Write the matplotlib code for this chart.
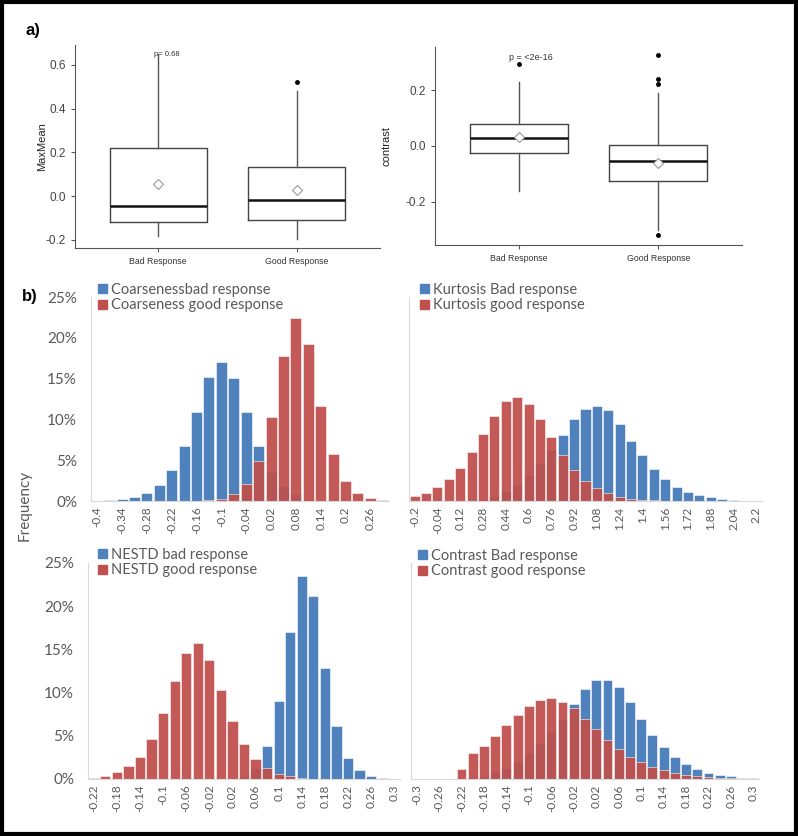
import numpy as np
import matplotlib
matplotlib.use("Agg")
import matplotlib.pyplot as plt
from matplotlib.patches import Patch, Rectangle

# --- a) box plots (values read off the picture) ---
groups = ["Bad Response", "Good Response"]

mm_whislo = [-0.183, -0.197]
mm_q1 = [-0.117, -0.110]
mm_med = [-0.044, -0.017]
mm_q3 = [0.219, 0.134]
mm_whishi = [0.65, 0.48]
mm_mean = [0.055, 0.030]
mm_fliers = [[], [0.52]]

ct_whislo = [-0.16, -0.30]
ct_q1 = [-0.025, -0.125]
ct_med = [0.028, -0.055]
ct_q3 = [0.078, 0.003]
ct_whishi = [0.23, 0.19]
ct_mean = [0.032, -0.060]
ct_fliers = [[0.295], [0.325, 0.24, 0.22, -0.32]]

# --- b) histograms (percent per bin) ---
coarse_bins = ["-0.4", "-0.37", "-0.34", "-0.31", "-0.28", "-0.25", "-0.22", "-0.19",
               "-0.16", "-0.13", "-0.1", "-0.07", "-0.04", "-0.01", "0.02", "0.05",
               "0.08", "0.11", "0.14", "0.17", "0.2", "0.23", "0.26", "0.29"]
coarse_bad = [0.05, 0.1, 0.2, 0.45, 1.0, 2.0, 3.8, 6.8, 10.9, 15.2, 17.0, 15.1,
              10.9, 6.8, 3.6, 1.8, 0.8, 0.3, 0.1, 0.05, 0, 0, 0, 0]
coarse_good = [0, 0, 0, 0, 0, 0, 0, 0, 0, 0.1, 0.3, 0.8,
               2.1, 4.9, 10.3, 17.8, 22.4, 19.2, 11.6, 5.7, 2.5, 0.95, 0.35, 0.1]

kurt_bins = ["-0.2", "-0.12", "-0.04", "0.04", "0.12", "0.2", "0.28", "0.36", "0.44",
             "0.52", "0.6", "0.68", "0.76", "0.84", "0.92", "1", "1.08", "1.16", "1.24",
             "1.32", "1.4", "1.48", "1.56", "1.64", "1.72", "1.8", "1.88", "1.96", "2.04",
             "2.12", "2.2"]
kurt_bad = [0, 0, 0, 0, 0, 0, 0.3, 0.6, 1.2, 2.0, 3.2, 4.6, 6.3, 8.1, 10.0, 11.3,
            11.7, 11.1, 9.4, 7.4, 5.6, 3.9, 2.65, 1.75, 1.15, 0.75, 0.45, 0.25, 0.12,
            0.06, 0.03]
kurt_good = [0.65, 1.0, 1.7, 2.7, 4.1, 6.0, 8.2, 10.4, 12.2, 12.7, 11.9, 10.1, 7.8,
             5.6, 3.8, 2.5, 1.55, 0.95, 0.55, 0.3, 0.15, 0.08, 0.04, 0, 0, 0, 0, 0,
             0, 0, 0]

nestd_bins = ["-0.22", "-0.2", "-0.18", "-0.16", "-0.14", "-0.12", "-0.1", "-0.08",
              "-0.06", "-0.04", "-0.02", "0", "0.02", "0.04", "0.06", "0.08", "0.1",
              "0.12", "0.14", "0.16", "0.18", "0.2", "0.22", "0.24", "0.26", "0.28", "0.3"]
nestd_bad = [0, 0, 0, 0, 0, 0, 0, 0, 0, 0, 0, 0.05, 0.15, 0.4, 1.3, 3.85, 9.0, 17.0,
             23.5, 21.2, 12.8, 6.1, 2.4, 1.0, 0.35, 0.08, 0.05]
nestd_good = [0.15, 0.4, 0.8, 1.5, 2.6, 4.6, 7.6, 11.4, 14.6, 15.7, 13.8, 10.3, 6.7,
              4.0, 2.3, 1.3, 0.6, 0.3, 0.12, 0.05, 0, 0, 0, 0, 0, 0, 0]

contrast_bins = ["-0.3", "-0.28", "-0.26", "-0.24", "-0.22", "-0.2", "-0.18", "-0.16",
                 "-0.14", "-0.12", "-0.1", "-0.08", "-0.06", "-0.04", "-0.02", "0",
                 "0.02", "0.04", "0.06", "0.08", "0.1", "0.12", "0.14", "0.16", "0.18",
                 "0.2", "0.22", "0.24", "0.26", "0.28", "0.3"]
contrast_bad = [0.05, 0.05, 0.05, 0.05, 0.1, 0.2, 0.4, 0.8, 1.3, 2.0, 3.0, 4.2, 5.5,
                6.9, 8.65, 10.4, 11.45, 11.5, 10.6, 8.9, 7.0, 5.1, 3.65, 2.5, 1.7, 1.1,
                0.75, 0.5, 0.3, 0.15, 0.08]
contrast_good = [0, 0, 0, 0.05, 1.15, 3.0, 3.85, 5.0, 6.2, 7.4, 8.5, 9.15, 9.35, 8.95,
                 8.2, 7.0, 5.8, 4.5, 3.5, 2.6, 1.95, 1.4, 1.0, 0.7, 0.5, 0.3, 0.2, 0.12,
                 0.07, 0.04, 0.02]

W, H = 798, 836
BLUE = "#4F81BD"
RED = "#C0504D"
GREY = "#595959"

fig = plt.figure(figsize=(W / 100, H / 100), dpi=100)


def rect(l, t, r, b):
    # pixel box -> figure fraction
    return [l / W, 1 - b / H, (r - l) / W, (b - t) / H]


def box_panel(box, whislo, q1, med, q3, whishi, mean, fliers, ylim, yticks, ylabel, ylab_x):
    ax = fig.add_axes(rect(*box))
    stats = []
    for i in range(len(groups)):
        stats.append(dict(whislo=whislo[i], q1=q1[i], med=med[i], q3=q3[i],
                          whishi=whishi[i], mean=mean[i], fliers=fliers[i]))
    ax.bxp(stats, positions=[1, 2], widths=0.7, showmeans=True, showcaps=False,
           boxprops=dict(color="#444444", lw=1),
           whiskerprops=dict(color="#555555", lw=1),
           medianprops=dict(color="#111111", lw=1.8),
           meanprops=dict(marker="D", markerfacecolor="white", markeredgecolor="#999999",
                          markersize=5, markeredgewidth=0.8),
           flierprops=dict(marker="o", markerfacecolor="black", markeredgecolor="black",
                           markersize=2.5))
    ax.set_xlim(0.4, 2.6)
    ax.set_ylim(*ylim)
    ax.set_yticks(yticks)
    ax.set_yticklabels([f"{v:.1f}" for v in yticks], fontsize=8.5, color="#444444")
    ax.set_xticks([1, 2])
    ax.set_xticklabels(groups, fontsize=6.3, color="#333333")
    ax.tick_params(length=3, color="#555555")
    for s in ["top", "right"]:
        ax.spines[s].set_visible(False)
    for s in ["left", "bottom"]:
        ax.spines[s].set_color("#555555")
    fig.text(ylab_x / W, 1 - ((box[1] + box[3]) / 2) / H, ylabel, rotation=90,
             ha="center", va="center", fontsize=8, color="#222222")
    return ax


plt.rcParams["font.family"] = ["Liberation Sans", "DejaVu Sans"]

ax1 = box_panel((75, 45, 380, 248), mm_whislo, mm_q1, mm_med, mm_q3, mm_whishi,
                mm_mean, mm_fliers, (-0.237, 0.691), [-0.2, 0.0, 0.2, 0.4, 0.6],
                "MaxMean", 42)
ax1.text(1.06, 0.646, "p= 0.68", fontsize=5.5, ha="center", va="center", color="#333333")

ax2 = box_panel((435, 47, 742, 245), ct_whislo, ct_q1, ct_med, ct_q3, ct_whishi,
                ct_mean, ct_fliers, (-0.354, 0.354), [-0.2, 0.0, 0.2],
                "contrast", 387)
ax2.text(1.09, 0.318, "p = <2e-16", fontsize=6.5, ha="center", va="center", color="#333333")

fig.text(33 / W, 1 - 30 / H, "a)", fontsize=12, fontweight="bold", ha="center", va="center")

# --- histograms, Excel style ---
plt.rcParams["font.family"] = ["Lato", "DejaVu Sans"]


def hist_panel(box, bins, bad, good, bad_lab, good_lab, leg_xy, show_y):
    ax = fig.add_axes(rect(*box))
    x = np.arange(len(bins))
    ax.bar(x, bad, width=0.88, color=BLUE, edgecolor="white", lw=0.4)
    ax.bar(x, good, width=0.88, color=RED, edgecolor="white", lw=0.4, alpha=0.94)
    ax.set_xlim(-0.5, len(bins) - 0.5)
    ax.set_ylim(0, 25)
    ax.set_xticks(x[::2])
    ax.set_xticklabels(bins[::2], rotation=90, fontsize=8.5, color=GREY)
    ax.set_yticks([0, 5, 10, 15, 20, 25])
    if show_y:
        ax.set_yticklabels([f"{v}%" for v in [0, 5, 10, 15, 20, 25]], fontsize=11, color=GREY)
    else:
        ax.set_yticklabels([])
    ax.tick_params(length=0, pad=4)
    ax.tick_params(axis="y", pad=10)
    for s in ["top", "right"]:
        ax.spines[s].set_visible(False)
    ax.spines["left"].set_color("#D9D9D9")
    ax.spines["bottom"].set_color("#D9D9D9")
    handles = [Patch(color=BLUE), Patch(color=RED)]
    ax.legend(handles, [bad_lab, good_lab], loc="upper left",
              bbox_to_anchor=(leg_xy[0] / W, 1 - leg_xy[1] / H),
              bbox_transform=fig.transFigure, frameon=False, fontsize=10.5,
              handlelength=0.6, handleheight=0.6, handletextpad=0.3,
              labelspacing=0.1, borderpad=0, borderaxespad=0, labelcolor=GREY)
    return ax


hist_panel((91, 297, 389, 501), coarse_bins, coarse_bad, coarse_good,
           "Coarsenessbad response", "Coarseness good response", (98, 283), True)
hist_panel((409, 297, 762, 501), kurt_bins, kurt_bad, kurt_good,
           "Kurtosis Bad response", "Kurtosis good response", (420, 283), False)
hist_panel((88, 563, 400, 779), nestd_bins, nestd_bad, nestd_good,
           "NESTD bad response", "NESTD good response", (98, 548), True)
hist_panel((411, 563, 759, 779), contrast_bins, contrast_bad, contrast_good,
           "Contrast Bad response", "Contrast good response", (418, 549), False)

fig.text(25 / W, 1 - 505 / H, "Frequency", rotation=90, fontsize=11, color=GREY,
         ha="center", va="center")
fig.text(30 / W, 1 - 297 / H, "b)", fontsize=12, fontweight="bold", ha="center",
         va="center", family=["Liberation Sans"])

# outer black frame
fig.patches.append(Rectangle((0.002, 0.002), 0.996, 0.996, transform=fig.transFigure,
                             fill=False, edgecolor="black", lw=3))

fig.savefig("out.png", dpi=100)
